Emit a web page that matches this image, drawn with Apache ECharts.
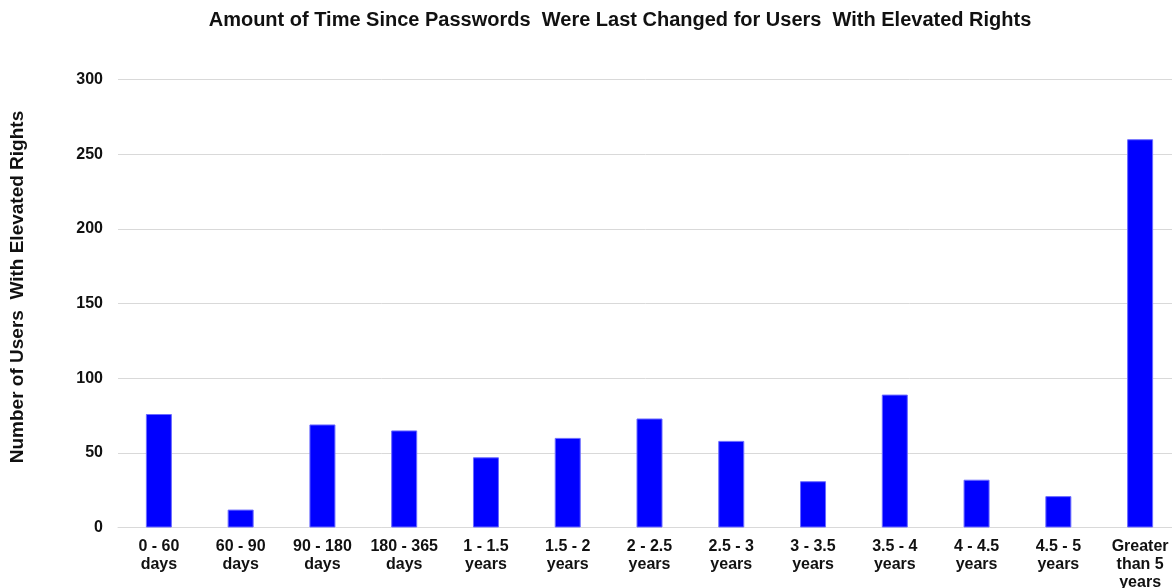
<!DOCTYPE html>
<html>
<head>
<meta charset="utf-8">
<script src="https://cdn.jsdelivr.net/npm/echarts@6/dist/echarts.min.js"></script>
<style>
  html, body { margin: 0; padding: 0; background: #fff; overflow: hidden; }
  #chart { width: 1172px; height: 588px; }
</style>
</head>
<body>
<div id="chart"></div>
<script>
// Password age buckets and user counts
const categories = [
  '0 - 60\ndays', '60 - 90\ndays', '90 - 180\ndays', '180 - 365\ndays',
  '1 - 1.5\nyears', '1.5 - 2\nyears', '2 - 2.5\nyears', '2.5 - 3\nyears',
  '3 - 3.5\nyears', '3.5 - 4\nyears', '4 - 4.5\nyears', '4.5 - 5\nyears',
  'Greater\nthan 5\nyears'
];
const userCounts = [76, 12, 69, 65, 47, 60, 73, 58, 31, 89, 32, 21, 260];
const yTicks = { min: 0, max: 300, interval: 50 };
const yAxisTitle = 'Number of Users  With Elevated Rights';

const font = 'Liberation Sans, Arial, sans-serif';
const chart = echarts.init(document.getElementById('chart'));
chart.setOption({
  animation: false,
  backgroundColor: '#ffffff',
  title: {
    text: 'Amount of Time Since Passwords  Were Last Changed for Users  With Elevated Rights',
    left: 615,
    textAlign: 'center',
    top: 5,
    textStyle: { fontFamily: font, fontWeight: 'bold', fontSize: 20, color: '#111' }
  },
  // vertical axis title, drawn rotated on the left edge
  graphic: [{
    type: 'text',
    x: 18, y: 287,
    rotation: Math.PI / 2,
    style: {
      text: yAxisTitle,
      fontFamily: font, fontWeight: 'bold', fontSize: 19, fill: '#111',
      align: 'center', verticalAlign: 'middle'
    }
  }],
  grid: { left: 118, width: 1063, top: 79.5, bottom: 60.5, outerBoundsMode: 'none', containLabel: false },
  xAxis: {
    type: 'category',
    data: categories,
    axisLine: { show: true, lineStyle: { color: '#d9d9d9', width: 1 } },
    axisTick: { show: false },
    axisLabel: {
      interval: 0,
      margin: 10,
      fontFamily: font, fontWeight: 'bold', fontSize: 16, color: '#111',
      lineHeight: 18
    }
  },
  yAxis: {
    type: 'value',
    min: yTicks.min, max: yTicks.max, interval: yTicks.interval,
    axisLine: { show: false },
    axisTick: { show: false },
    axisLabel: { margin: 15, fontFamily: font, fontWeight: 'bold', fontSize: 16, color: '#111' },
    splitLine: { lineStyle: { color: '#d9d9d9', width: 1 } }
  },
  series: [{
    type: 'bar',
    data: userCounts,
    barWidth: 26,
    itemStyle: { color: '#0000ff', borderColor: '#6b6bff', borderWidth: 1 }
  }]
});
</script>
</body>
</html>
